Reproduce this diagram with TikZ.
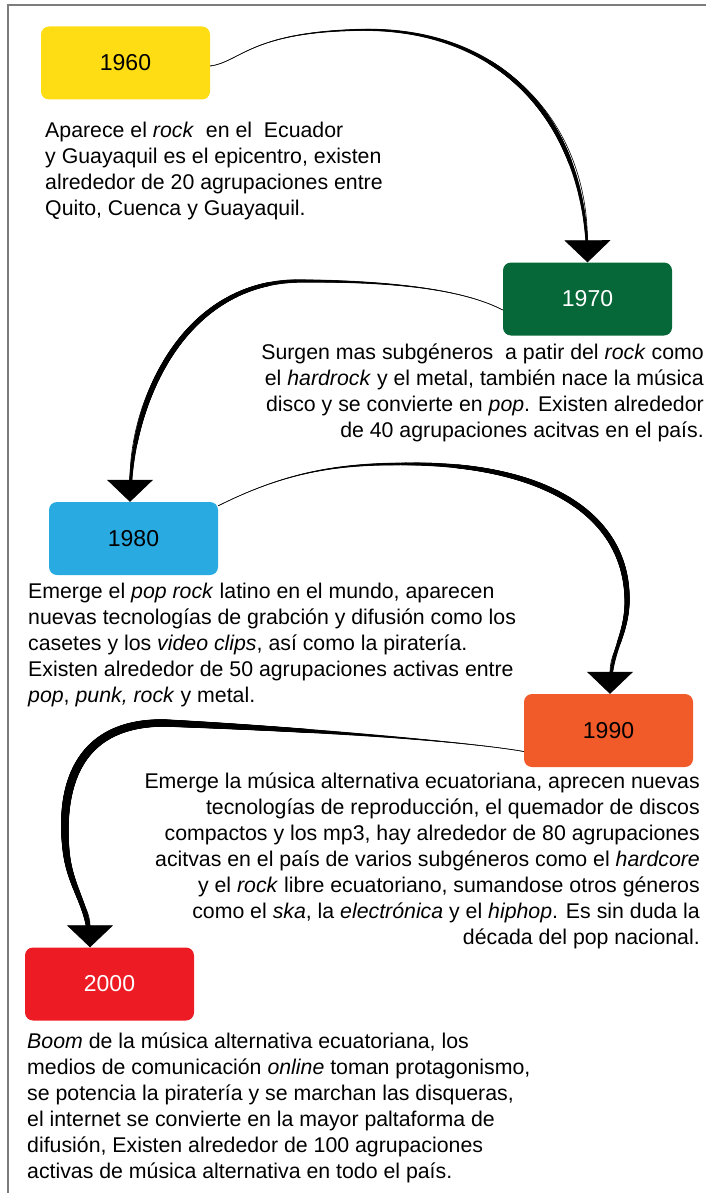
\documentclass[tikz,border=0pt]{standalone}
\usepackage{fontspec}
\setmainfont{Liberation Sans}
\usetikzlibrary{arrows.meta,decorations.markings}
\definecolor{cyellow}{RGB}{255,221,21}
\definecolor{cgreen}{RGB}{6,104,56}
\definecolor{cblue}{RGB}{41,171,226}
\definecolor{corange}{RGB}{241,90,41}
\definecolor{cred}{RGB}{237,28,36}
\definecolor{cframe}{RGB}{125,125,125}
\tikzset{
  year/.style={rounded corners=8pt, minimum width=169pt, minimum height=73pt,
    inner sep=0pt, font=\fontsize{23}{27}\selectfont},
  desc/.style={inner sep=0pt, font=\fontsize{21.3}{26}\selectfont},
  conn/.style={line width=0.6pt, -{Triangle[width=46pt,length=22pt]}},
  taper/.style n args={4}{postaction={decorate,decoration={markings,
    mark=between positions 0 and -22pt step 0.5pt with {%
      \pgfmathsetmacro\tpos{\pgfkeysvalueof{/pgf/decoration/mark info/distance from start}/\pgfdecoratedpathlength}%
      \pgfmathsetmacro\trad{\tpos<#4 ? #1+(#2-#1)*sin(90*\tpos/#4)^2 : #2+(#3-#2)*sin(90*(\tpos-#4)/(1-#4))^2}%
      \fill (0,0) circle (\trad pt);
    }}}}
}
\begin{document}
\begin{tikzpicture}[x=1pt,y=-1pt]
\useasboundingbox (0,0) rectangle (706,1193);
\draw[cframe, line width=2pt] (706,5) -- (8,5) -- (8,1193);

\node[year, fill=cyellow] (a) at (125.5,63) {1960};
\node[year, fill=cgreen, text=white] (b) at (587.5,299) {1970};
\node[year, fill=cblue] (c) at (133.5,538.5) {1980};
\node[year, fill=corange] (d) at (608.5,730.5) {1990};
\node[year, fill=cred, text=white] (e) at (109.5,984) {2000};

\node[desc, anchor=north west, align=left] (ta) at (45,119) {\strut Aparece el \textit{rock}\ \ en el\ \ Ecuador\\
y Guayaquil es el epicentro, existen\\
alrededor de 20 agrupaciones entre\\
Quito, Cuenca y Guayaquil.};

\node[desc, anchor=north east, align=right] (tb) at (704,341) {\strut Surgen mas subgéneros\ \ a patir del \textit{rock} como\\
el \textit{hardrock} y el metal, también nace la música\\
disco y se convierte en \textit{pop}. Existen alrededor\\
de 40 agrupaciones acitvas en el país.};

\node[desc, anchor=north west, align=left] (tc) at (28,580) {\strut Emerge el \textit{pop rock} latino en el mundo, aparecen\\
nuevas tecnologías de grabción y difusión como los\\
casetes y los \textit{video clips}, así como la piratería.\\
Existen alrededor de 50 agrupaciones activas entre\\
\textit{pop}, \textit{punk, rock} y metal.};

\node[desc, anchor=north east, align=right] (td) at (700,770) {\strut Emerge la música alternativa ecuatoriana, aprecen nuevas\\
tecnologías de reproducción, el quemador de discos\\
compactos y los mp3, hay alrededor de 80 agrupaciones\\
acitvas en el país de varios subgéneros como el \textit{hardcore}\\
y el \textit{rock} libre ecuatoriano, sumandose otros géneros\\
como el \textit{ska}, la \textit{electrónica} y el \textit{hiphop}. Es sin duda la\\
década del pop nacional.};

\node[desc, anchor=north west, align=left] (te) at (27,1030) {\strut\textit{Boom} de la música alternativa ecuatoriana, los\\
medios de comunicación \textit{online} toman protagonismo,\\
se potencia la piratería y se marchan las disqueras,\\
el internet se convierte en la mayor paltaforma de\\
difusión, Existen alrededor de 100 agrupaciones\\
activas de música alternativa en todo el país.};

\draw[conn, taper={0.3}{2.2}{1.3}{0.7}] ([yshift=-3pt]a.east)
  .. controls (240,62) and (250,33) .. (355,30)
  .. controls (500,25) and (587,120) .. (b.north);
\draw[conn, taper={0.3}{2.7}{1.5}{0.72}] ([yshift=-11pt]b.west)
  .. controls (470,293) and (410,281) .. (300,281)
  .. controls (190,281) and (130,390) .. ([xshift=-3.5pt]c.north);
\draw[conn, taper={0.3}{3.0}{1.6}{0.72}] ([yshift=-4pt]c.north east)
  .. controls (280,475) and (330,464) .. (400,464)
  .. controls (545,462) and (630,515) .. (627,605)
  .. controls (625,640) and (610,650) .. ([xshift=1.5pt]d.north);
\draw[conn, taper={0.3}{4.2}{2.1}{0.72}] ([yshift=-21pt]d.west)
  .. controls (470,742) and (320,730) .. (165,723)
  .. controls (75,722) and (60,790) .. (66,850)
  .. controls (70,890) and (90,905) .. ([xshift=-19.5pt]e.north);
\end{tikzpicture}
\end{document}
